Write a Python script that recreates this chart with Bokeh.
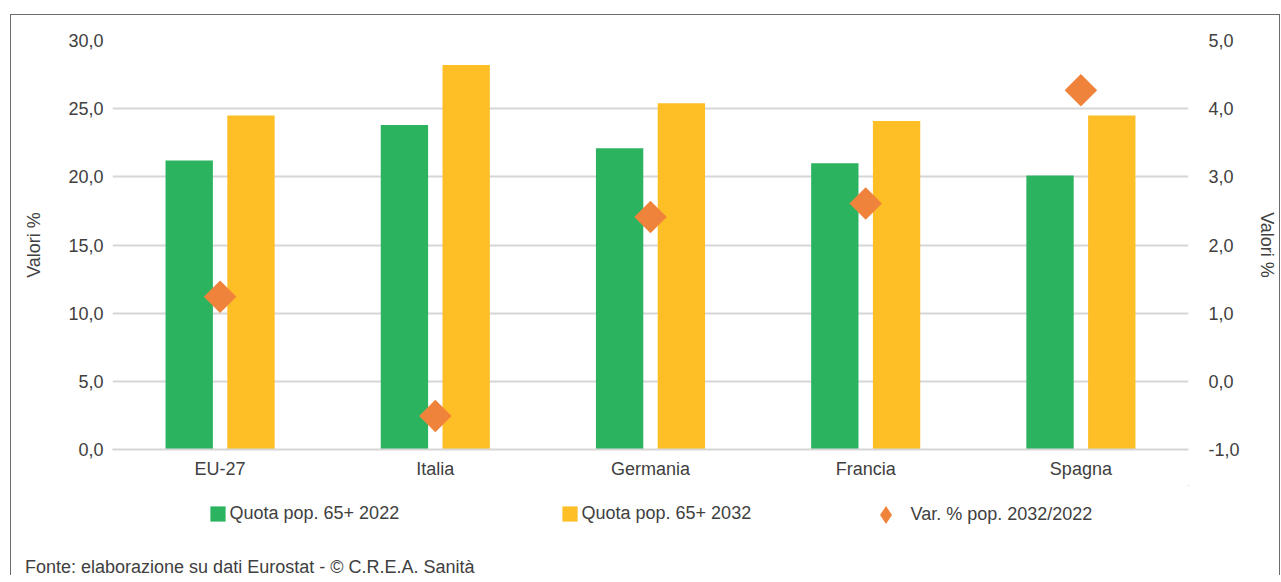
import math
from bokeh.plotting import figure
from bokeh.models import (ColumnDataSource, FactorRange, Range1d, LinearAxis, FixedTicker,
                          CustomJSTickFormatter, Legend, LegendItem, Div)
from bokeh.transform import dodge
from bokeh.layouts import column
from bokeh.embed import file_html
from bokeh.resources import INLINE

# ---- data ----
categories = ["EU-27", "Italia", "Germania", "Francia", "Spagna"]
quota_2022 = [21.2, 23.8, 22.1, 21.0, 20.1]
quota_2032 = [24.5, 28.2, 25.4, 24.1, 24.5]
var_pct = [1.24, -0.51, 2.41, 2.61, 4.27]
left_ticks = [0, 5, 10, 15, 20, 25, 30]
right_ticks = [-1, 0, 1, 2, 3, 4, 5]
series_names = ["Quota pop. 65+ 2022", "Quota pop. 65+ 2032", "Var. % pop. 2032/2022"]
footer_text = "Fonte: elaborazione su dati Eurostat - © C.R.E.A. Sanità"
axis_title = "Valori %"

GREEN = "#2BB360"
YELLOW = "#FDBE26"
ORANGE = "#F0833C"
TXT = "#404040"
GRID = "#D6D6D6"
FONT = "Liberation Sans, Arial, sans-serif"
W = 1268

src = ColumnDataSource(dict(cat=categories, q22=quota_2022, q32=quota_2032, var=var_pct))

# ---------------- main chart ----------------
p = figure(x_range=FactorRange(*categories, range_padding=0), y_range=Range1d(0, 30),
           width=W, height=470, output_backend="svg", toolbar_location=None,
           min_border_left=101, min_border_right=87, min_border_top=25, min_border_bottom=36)
p.extra_y_ranges = {"right": Range1d(-1, 5)}
p.outline_line_color = None

fmt = CustomJSTickFormatter(code="return tick.toFixed(1).replace('.', ',');")

ya = p.yaxis[0]
ya.ticker = FixedTicker(ticks=left_ticks)
ya.formatter = fmt
ya.major_label_standoff = 9
ya.axis_label = axis_title
ya.axis_label_standoff = 21

ra = LinearAxis(y_range_name="right", ticker=FixedTicker(ticks=right_ticks), formatter=fmt)
ra.major_label_standoff = 20
ra.axis_label = axis_title
ra.axis_label_standoff = 14
p.add_layout(ra, "right")

xa = p.xaxis[0]
xa.major_label_standoff = 9

for ax in (ya, ra, xa):
    ax.major_tick_line_color = None
    ax.minor_tick_line_color = None
    ax.major_tick_out = 0
    ax.major_tick_in = 0
    ax.minor_tick_out = 0
    ax.major_label_text_font = FONT
    ax.major_label_text_font_size = "18px"
    ax.major_label_text_color = TXT
    ax.axis_label_text_font = FONT
    ax.axis_label_text_font_size = "18px"
    ax.axis_label_text_color = TXT
    ax.axis_label_text_font_style = "normal"
ya.axis_line_color = None
ra.axis_line_color = None
xa.axis_line_color = GRID
xa.axis_line_width = 2

p.xgrid.grid_line_color = None
p.ygrid.grid_line_color = GRID
p.ygrid.grid_line_width = 2
p.ygrid.ticker = FixedTicker(ticks=left_ticks)

p.vbar(x=dodge("cat", -0.1435, range=p.x_range), top="q22", width=0.22, source=src,
       fill_color=GREEN, line_color=None)
p.vbar(x=dodge("cat", 0.1435, range=p.x_range), top="q32", width=0.22, source=src,
       fill_color=YELLOW, line_color=None)
p.scatter(x="cat", y="var", source=src, y_range_name="right", marker="square",
          angle=math.pi / 4, size=23, fill_color=ORANGE, line_color=None)

# ---------------- legend strip (frame aligned with the chart frame) ----------------
lg = figure(width=W, height=50, x_range=Range1d(0, 1), y_range=Range1d(0, 1),
            x_axis_type=None, y_axis_type=None, output_backend="svg", toolbar_location=None,
            min_border=0)
lg.outline_line_color = None
lg.grid.visible = False
# key renderers share the chart's data; their values lie outside this strip's ranges,
# so only their legend swatches are seen
k1 = lg.vbar(x="q22", top="q22", bottom="q22", width=0.1, source=src,
             fill_color=GREEN, line_color=None)
k2 = lg.vbar(x="q32", top="q32", bottom="q32", width=0.1, source=src,
             fill_color=YELLOW, line_color=None)
k3 = lg.scatter(x="q22", y="q22", source=src, marker="diamond", size=10,
                fill_color=ORANGE, line_color=None)

common = dict(orientation="horizontal", padding=0, margin=0, border_line_color=None,
              background_fill_alpha=0, label_text_font=FONT, label_text_font_size="18px",
              label_text_color=TXT, label_text_baseline="middle")

leg_a = Legend(items=[LegendItem(label=series_names[0], renderers=[k1], index=0),
                      LegendItem(label=series_names[1], renderers=[k2], index=0)],
               location=(95.5, 11), glyph_width=19, glyph_height=19, label_height=19,
               label_width=175, label_standoff=3, spacing=155, **common)
lg.add_layout(leg_a, "center")

leg_b = Legend(items=[LegendItem(label=series_names[2], renderers=[k3], index=0)],
               location=(750.5, -2), glyph_width=45, glyph_height=45, label_height=45,
               label_standoff=3, spacing=0, **common)
lg.add_layout(leg_b, "center")

footer = Div(text=footer_text, width=W, height=40, margin=0,
             styles={"font-family": FONT, "font-size": "18px", "color": TXT,
                     "padding-left": "14px", "padding-top": "20px", "box-sizing": "border-box"})

layout = column(p, lg, footer, spacing=0,
                styles={"border-top": "1.5px solid #6B6B6B", "border-left": "1.5px solid #6B6B6B",
                        "border-right": "1.5px solid #6B6B6B", "margin-left": "10px",
                        "margin-top": "14px"})

open("out.html", "w").write(file_html(layout, INLINE))
